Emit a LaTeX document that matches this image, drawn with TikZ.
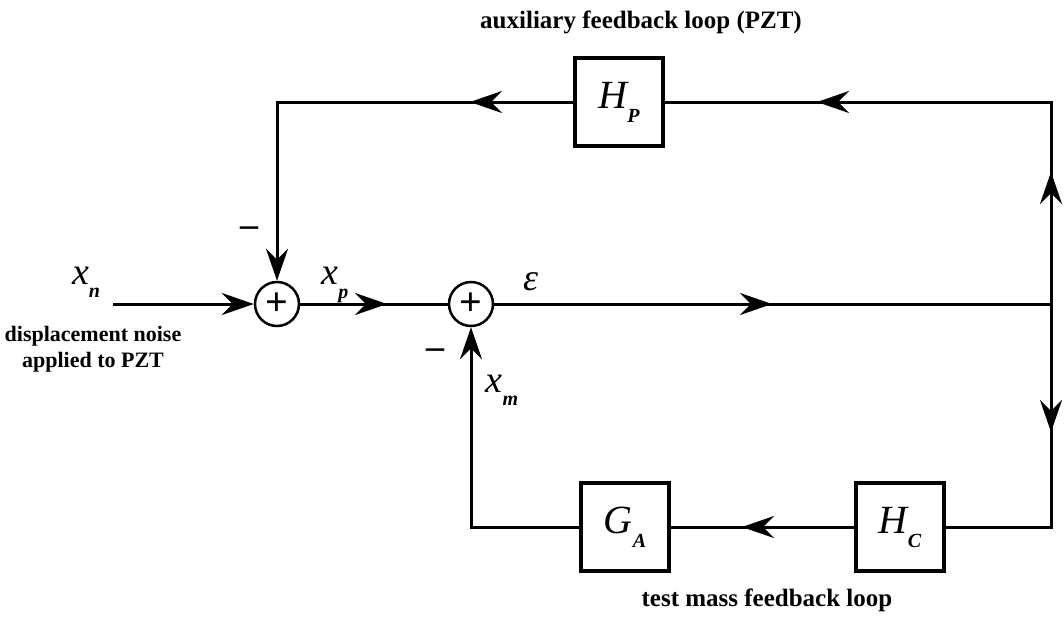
\documentclass[tikz,border=0pt]{standalone}
\usepackage{fontspec}
\setmainfont{Liberation Serif}
\usetikzlibrary{arrows.meta,calc}

\newcommand{\lowsub}[1]{\raisebox{-0.35em}{\fontsize{20}{20}\selectfont\bfseries\itshape #1}}

\begin{document}
\begin{tikzpicture}[x=1pt, y=-1pt, line width=3pt, line join=miter,
    >={Stealth[length=32pt, width=22pt, inset=11pt]},
    block/.style={draw, line width=4.5pt, minimum size=88pt, inner sep=0pt,
      font=\fontsize{40}{40}\selectfont\itshape},
    sumnode/.style={draw, circle, line width=2.5pt, minimum size=44pt, inner sep=0pt,
      font=\fontsize{40}{40}\selectfont\bfseries},
    lbl/.style={font=\fontsize{38}{38}\selectfont\itshape},
    note/.style={font=\fontsize{25}{28}\selectfont\bfseries, align=center},
    minus/.style={font=\fontsize{36}{36}\selectfont\bfseries}]
  \useasboundingbox (0,0) rectangle (1064,616);
  % --- blocks and summing points ---
  \node[sumnode] (s1) at (277,304) {+};
  \node[sumnode] (s2) at (471,304) {+};
  \node[block] (hp) at (619,102) {H\lowsub{P}};
  \node[block] (ga) at (625,527) {G\lowsub{A}};
  \node[block] (hc) at (900,527) {H\lowsub{C}};
  % --- corners and arrow tips ---
  \coordinate (tr) at (1051,102);
  \coordinate (mr) at (1051,304);
  \coordinate (br) at (1051,527);
  \coordinate (tl) at (277,102);
  \coordinate (bl) at (471,527);
  \coordinate (xin) at (113,304);
  \coordinate (tipa) at (470,102);
  \coordinate (tipb) at (817,102);
  \coordinate (tipc) at (1051,172);
  \coordinate (tipd) at (1051,432);
  \coordinate (tipe) at (742,527);
  \coordinate (tipf) at (387,304);
  \coordinate (tipg) at (772,304);
  % --- forward path ---
  \draw[->] (xin) -- (s1.west);
  \draw (s1.east) -- (s2.west);
  \draw[->] (s1.east) -- (tipf);
  \draw (s2.east) -- (mr);
  \draw[->] (s2.east) -- (tipg);
  % --- auxiliary loop ---
  \draw (mr) -- (tr) -- (hp.east);
  \draw[->] (mr) -- (tipc);
  \draw[->] (tr) -- (tipb);
  \draw[->] (hp.west) -- (tl) -- (s1.north);
  \draw[->] (hp.west) -- (tipa);
  % --- test mass loop ---
  \draw (mr) -- (br) -- (hc.east);
  \draw[->] (mr) -- (tipd);
  \draw (hc.west) -- (ga.east);
  \draw[->] (hc.west) -- (tipe);
  \draw[->] (ga.west) -- (bl) -- (s2.south);
  % --- labels ---
  \node[lbl] (lxn) at (86,282) {x\lowsub{n}};
  \node[lbl] (lxp) at (335,285) {x\lowsub{p}};
  \node[lbl] (leps) at (531,282) {ε};
  \node[lbl] (lxm) at (502,390) {x\lowsub{m}};
  \node[minus] (m1) at (249,232) {–};
  \node[minus] (m2) at (435,354) {–};
  \node[note, font=\fontsize{22}{26}\selectfont\bfseries] (ldn) at (93,349) {displacement noise\\applied to PZT};
  \node[note] (ltop) at (641,22) {auxiliary feedback loop (PZT)};
  \node[note] (lbot) at (767,600) {test mass feedback loop};
\end{tikzpicture}
\end{document}
